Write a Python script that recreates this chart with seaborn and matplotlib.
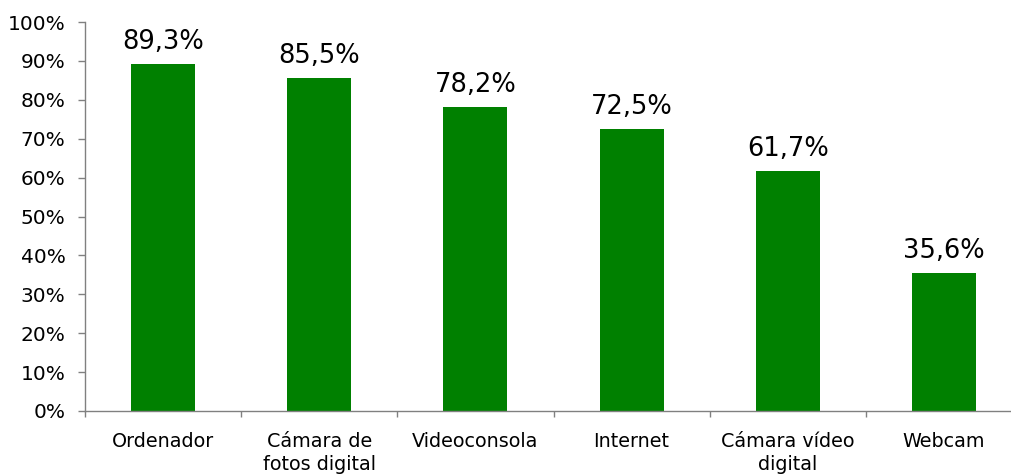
import matplotlib
matplotlib.use("Agg")
import matplotlib.pyplot as plt
import seaborn as sns
import pandas as pd
from matplotlib.ticker import FixedLocator, PercentFormatter

categories = ["Ordenador", "Cámara de\nfotos digital", "Videoconsola",
              "Internet", "Cámara vídeo\ndigital", "Webcam"]
values = [89.3, 85.5, 78.2, 72.5, 61.7, 35.6]
value_labels = ["89,3%", "85,5%", "78,2%", "72,5%", "61,7%", "35,6%"]

df = pd.DataFrame({"cat": categories, "val": values})

sns.set_theme(style="white", rc={"xtick.bottom": True, "ytick.left": True,
                                 "text.color": "black", "xtick.color": "black",
                                 "ytick.color": "black"})
plt.rcParams["font.family"] = ["DejaVu Sans"]

fig = plt.figure(figsize=(10.11, 4.74), dpi=100)
W, H = 1011, 474
ax = fig.add_axes([85 / W, (H - 411) / H, (1022 - 85) / W, (411 - 22) / H])

sns.barplot(data=df, x="cat", y="val", color="#008000", width=0.41,
            saturation=1, linewidth=0, ax=ax)

for i, (v, lab) in enumerate(zip(values, value_labels)):
    ax.text(i, v + 2.3, lab, ha="center", va="bottom", fontsize=18.5, color="black")

ax.set_ylim(0, 100)
ax.set_xlim(-0.5, len(categories) - 0.5)
ax.set_yticks(range(0, 101, 10))
ax.yaxis.set_major_formatter(PercentFormatter(decimals=0))
ax.set_xlabel("")
ax.set_ylabel("")

# ticks between categories on x
ax.set_xticks(range(len(categories)))
ax.set_xticklabels(categories, fontsize=13.8, linespacing=1.25)
ax.tick_params(axis="x", which="major", length=0, pad=15)
ax.xaxis.set_minor_locator(FixedLocator([i - 0.5 for i in range(len(categories) + 1)]))
ax.tick_params(axis="x", which="minor", bottom=True, length=4.5, width=1,
               color="#808080", direction="out")
ax.tick_params(axis="y", length=5, width=1, color="#808080", direction="out",
               labelsize=14.5, pad=9, labelcolor="black")

for side in ["top", "right"]:
    ax.spines[side].set_visible(False)
for side in ["left", "bottom"]:
    ax.spines[side].set_color("#808080")
    ax.spines[side].set_linewidth(1)

fig.savefig("out.png", dpi=100)
